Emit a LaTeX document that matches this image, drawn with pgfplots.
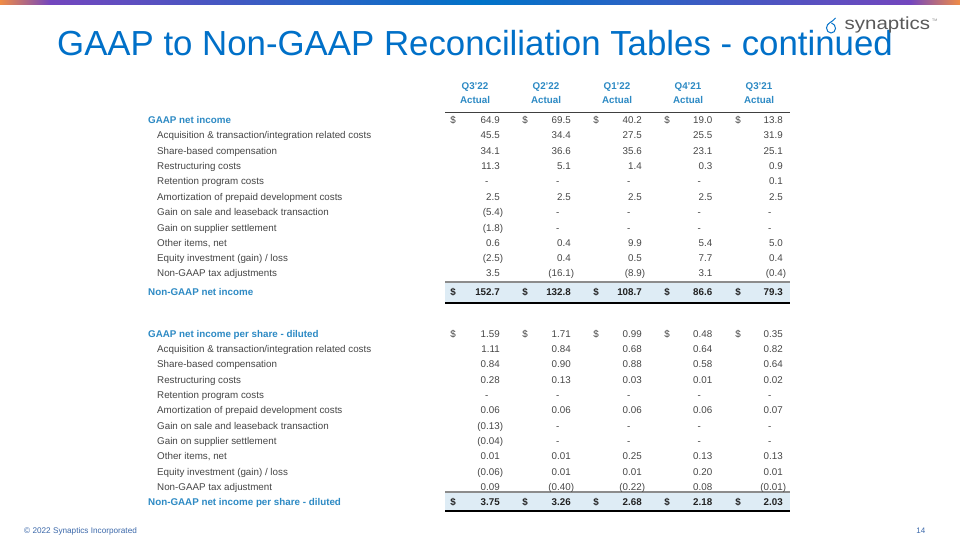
\documentclass[border=0pt]{standalone}
\usepackage{pgfplots}
\pgfplotsset{compat=1.18}
\usepackage{pgfplotstable}
\usepackage{fontspec}
\setmainfont{Liberation Sans}
\definecolor{titleblue}{RGB}{0,112,200}
\definecolor{headblue}{RGB}{45,138,196}
\definecolor{txtgray}{RGB}{70,70,70}
\definecolor{totgray}{RGB}{35,35,35}
\definecolor{bandblue}{RGB}{222,236,245}
\definecolor{barorange}{RGB}{240,140,70}
\definecolor{barpurple}{RGB}{115,70,190}
\definecolor{barblue}{RGB}{0,115,200}
\definecolor{footblue}{RGB}{60,105,170}

\pgfplotstableread{
y     q322  q222  q122  q421  q321
120   64.9  69.5  40.2  19.0  13.8
135.5 45.5  34.4  27.5  25.5  31.9
151   34.1  36.6  35.6  23.1  25.1
166   11.3  5.1   1.4   0.3   0.9
181.5 0     0     0     0     0.1
197   2.5   2.5   2.5   2.5   2.5
212   -5.4  0     0     0     0
227.5 -1.8  0     0     0     0
243   0.6   0.4   9.9   5.4   5.0
258   -2.5  0.4   0.5   7.7   0.4
273   3.5   -16.1 -8.9  3.1   -0.4
}\topdata
\pgfplotstableread{
y     q322  q222  q122  q421  q321
292   152.7 132.8 108.7 86.6  79.3
}\toptotal
\pgfplotstableread{
y     q322  q222  q122  q421  q321
333.5 1.59  1.71  0.99  0.48  0.35
349   1.11  0.84  0.68  0.64  0.82
364   0.84  0.90  0.88  0.58  0.64
379.5 0.28  0.13  0.03  0.01  0.02
395   0     0     0     0     0
410   0.06  0.06  0.06  0.06  0.07
425.5 -0.13 0     0     0     0
441   -0.04 0     0     0     0
456   0.01  0.01  0.25  0.13  0.13
471.5 -0.06 0.01  0.01  0.20  0.01
487   0.09  -0.40 -0.22 0.08  -0.01
}\botdata
\pgfplotstableread{
y     q322  q222  q122  q421  q321
502   3.75  3.26  2.68  2.18  2.03
}\bottotal

\newcommand\acct[2]{%
  \pgfmathfloatifflags{#1}{0}{-\hspace*{11.5pt}}{%
    \pgfmathfloatifflags{#1}{2}{%
      \pgfmathfloattofixed{#1}\pgfmathparse{abs(\pgfmathresult)}\let\tmpabs\pgfmathresult
      (\pgfmathprintnumber[fixed,fixed zerofill,precision=#2]{\tmpabs}\rlap{)}}%
    {\pgfmathprintnumber[fixed,fixed zerofill,precision=#2]{#1}}}}

\newcommand\valcol[5]{%
  \addplot[draw=none, mark=none, point meta=explicit,
    nodes near coords={\acct{\pgfplotspointmeta}{#4}},
    every node near coord/.append style={anchor=base east, inner sep=0pt,
      yshift=-3.5pt, font=\fontsize{9.8}{11}\selectfont, text=txtgray, #5}]
    table[x expr=#1, y=y, meta=#2] {#3};}

\newcommand\lab[3][]{\node[anchor=base west, inner sep=0pt, yshift=-3.5pt,
  font=\fontsize{9.8}{11}\selectfont, text=txtgray, #1] at (axis cs:#2) {#3};}
\newcommand\dol[2][]{\node[anchor=base, inner sep=0pt, yshift=-3.5pt,
  font=\fontsize{9.8}{11}\selectfont, text=txtgray, #1] at (axis cs:#2) {\$};}
\newcommand\hdr[2]{%
  \node[anchor=base, inner sep=0pt, yshift=-3.5pt, text=headblue,
     font=\fontsize{9.8}{11}\selectfont\bfseries] at (axis cs:#1,86.5) {#2};
  \node[anchor=base, inner sep=0pt, yshift=-3.5pt, text=headblue,
     font=\fontsize{9.8}{11}\selectfont\bfseries] at (axis cs:#1,100.5) {Actual};}

\begin{document}
\begin{tikzpicture}
\begin{axis}[
  scale only axis, width=960pt, height=540pt,
  xmin=0, xmax=960, ymin=0, ymax=540, y dir=reverse,
  hide axis, clip=false,
  /pgf/number format/assume math mode=true,
]
% background
\fill[white] (axis cs:0,0) rectangle (axis cs:960,540);
% top bar
\shade[left color=barorange, right color=barpurple] (axis cs:0,0) rectangle (axis cs:50,5);
\shade[left color=barpurple, right color=barblue] (axis cs:50,0) rectangle (axis cs:480,5);
\shade[left color=barblue, right color=barpurple] (axis cs:480,0) rectangle (axis cs:910,5);
\shade[left color=barpurple, right color=barorange] (axis cs:910,0) rectangle (axis cs:960,5);
% title
\node[anchor=base west, inner sep=0pt, text=titleblue, font=\fontsize{34.8}{40}\selectfont]
  at (axis cs:57,56) {GAAP to Non-GAAP Reconciliation Tables - continued};
% logo
\draw[titleblue, line width=1pt] (axis cs:835.5,18) to[out=235,in=90] (axis cs:826.5,28)
  to[out=-90,in=180] (axis cs:831,33) to[out=0,in=-90] (axis cs:835.5,28.5)
  to[out=90,in=-20] (axis cs:831.5,23);
\node[anchor=base west, inner sep=0pt, text=black!65, font=\fontsize{17.5}{20}\selectfont]
  at (axis cs:844.5,29.7) {\scalebox{1.17}[1]{synaptics}};
\node[anchor=base west, inner sep=0pt, text=black!50, font=\fontsize{3.5}{4}\selectfont]
  at (axis cs:932,22) {TM};
% header
\hdr{475}{Q3’22}
\hdr{546}{Q2’22}
\hdr{617}{Q1’22}
\hdr{688}{Q4’21}
\hdr{759}{Q3’21}
\draw[black!75, line width=0.9pt] (axis cs:445,112) -- (axis cs:790,112);
% total bands
\fill[bandblue] (axis cs:445,282) rectangle (axis cs:790,302.5);
\draw[black!45, line width=1.3pt] (axis cs:445,282) -- (axis cs:790,282);
\draw[black, line width=2pt] (axis cs:445,303) -- (axis cs:790,303);
\fill[bandblue] (axis cs:445,492) rectangle (axis cs:790,510.5);
\draw[black!45, line width=1.3pt] (axis cs:445,492) -- (axis cs:790,492);
\draw[black, line width=2pt] (axis cs:445,511) -- (axis cs:790,511);

% row labels
\lab[text=headblue, font=\fontsize{9.8}{11}\selectfont\bfseries]{148,120}{GAAP net income}
\lab{157,135.5}{Acquisition \& transaction/integration related costs}
\lab{157,151}{Share-based compensation}
\lab{157,166}{Restructuring costs}
\lab{157,181.5}{Retention program costs}
\lab{157,197}{Amortization of prepaid development costs}
\lab{157,212}{Gain on sale and leaseback transaction}
\lab{157,227.5}{Gain on supplier settlement}
\lab{157,243}{Other items, net}
\lab{157,258}{Equity investment (gain) / loss}
\lab{157,273}{Non-GAAP tax adjustments}
\lab[text=headblue, font=\fontsize{9.8}{11}\selectfont\bfseries]{148,292}{Non-GAAP net income}

\lab[text=headblue, font=\fontsize{9.8}{11}\selectfont\bfseries]{148,333.5}{GAAP net income per share - diluted}
\lab{157,349}{Acquisition \& transaction/integration related costs}
\lab{157,364}{Share-based compensation}
\lab{157,379.5}{Restructuring costs}
\lab{157,395}{Retention program costs}
\lab{157,410}{Amortization of prepaid development costs}
\lab{157,425.5}{Gain on sale and leaseback transaction}
\lab{157,441}{Gain on supplier settlement}
\lab{157,456}{Other items, net}
\lab{157,471.5}{Equity investment (gain) / loss}
\lab{157,487}{Non-GAAP tax adjustment}
\lab[text=headblue, font=\fontsize{9.8}{11}\selectfont\bfseries]{148,502}{Non-GAAP net income per share - diluted}

% dollar signs
\pgfplotsinvokeforeach{453,525,596,667,738}{
  \dol{#1,120}
  \dol[text=totgray, font=\fontsize{9.8}{11}\selectfont\bfseries]{#1,292}
  \dol{#1,333.5}
  \dol[text=totgray, font=\fontsize{9.8}{11}\selectfont\bfseries]{#1,502}
}

% values
\valcol{500}{q322}{\topdata}{1}{}
\valcol{571}{q222}{\topdata}{1}{}
\valcol{642}{q122}{\topdata}{1}{}
\valcol{712.5}{q421}{\topdata}{1}{}
\valcol{783}{q321}{\topdata}{1}{}
\valcol{500}{q322}{\toptotal}{1}{text=totgray, font=\fontsize{9.8}{11}\selectfont\bfseries}
\valcol{571}{q222}{\toptotal}{1}{text=totgray, font=\fontsize{9.8}{11}\selectfont\bfseries}
\valcol{642}{q122}{\toptotal}{1}{text=totgray, font=\fontsize{9.8}{11}\selectfont\bfseries}
\valcol{712.5}{q421}{\toptotal}{1}{text=totgray, font=\fontsize{9.8}{11}\selectfont\bfseries}
\valcol{783}{q321}{\toptotal}{1}{text=totgray, font=\fontsize{9.8}{11}\selectfont\bfseries}

\valcol{500}{q322}{\botdata}{2}{}
\valcol{571}{q222}{\botdata}{2}{}
\valcol{642}{q122}{\botdata}{2}{}
\valcol{712.5}{q421}{\botdata}{2}{}
\valcol{783}{q321}{\botdata}{2}{}
\valcol{500}{q322}{\bottotal}{2}{text=totgray, font=\fontsize{9.8}{11}\selectfont\bfseries}
\valcol{571}{q222}{\bottotal}{2}{text=totgray, font=\fontsize{9.8}{11}\selectfont\bfseries}
\valcol{642}{q122}{\bottotal}{2}{text=totgray, font=\fontsize{9.8}{11}\selectfont\bfseries}
\valcol{712.5}{q421}{\bottotal}{2}{text=totgray, font=\fontsize{9.8}{11}\selectfont\bfseries}
\valcol{783}{q321}{\bottotal}{2}{text=totgray, font=\fontsize{9.8}{11}\selectfont\bfseries}

% footer
\node[anchor=base west, inner sep=0pt, text=footblue, font=\fontsize{8.2}{9}\selectfont]
  at (axis cs:24,533) {© 2022 Synaptics Incorporated};
\node[anchor=base east, inner sep=0pt, text=footblue, font=\fontsize{8}{9}\selectfont]
  at (axis cs:925.5,533) {14};
\end{axis}
\end{tikzpicture}
\end{document}
